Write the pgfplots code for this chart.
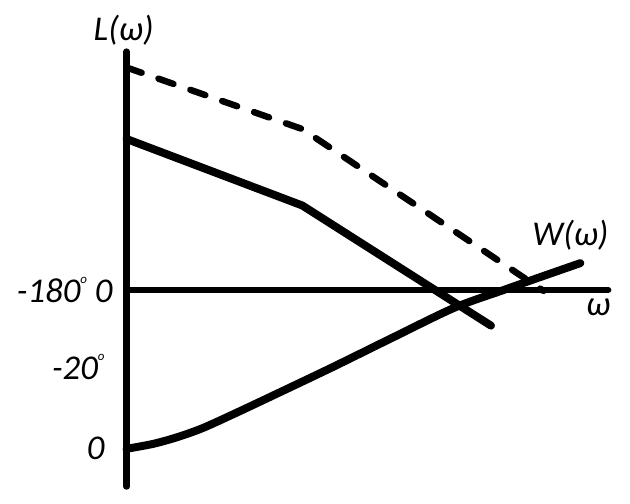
\documentclass[border=0pt]{standalone}
\usepackage{fontspec}
\setmainfont{Carlito}
\usepackage{pgfplots}
\pgfplotsset{compat=1.18}
\begin{document}
\newcommand{\degsym}{\raisebox{0.55em}{\fontsize{13}{13}\selectfont o}}
\newcommand{\lab}{\fontsize{35}{38}\selectfont\itshape}
\begin{tikzpicture}
\begin{axis}[
  width=630pt, height=507pt, scale only axis,
  xmin=-123, xmax=507, ymin=-215, ymax=292,
  hide axis, clip=false,
]
% bounding box
\addplot[draw=none] coordinates {(-123,-215) (507,292)};
% axes
\addplot[black, line width=6.5pt, line cap=round] coordinates {(0,240) (0,-198)};
\addplot[black, line width=6.5pt, line cap=round] coordinates {(0,0) (485,0)};
% dashed L
\addplot[black, line width=6.5pt, line cap=round, dash pattern=on 16pt off 18pt] coordinates {(0,224) (177,162) (420,-1)};
% solid L
\addplot[black, line width=8pt, line cap=round, line join=round] coordinates {(0,152) (177,85) (367,-36)};
% phase
\addplot[black, line width=8pt, line cap=round, line join=round, smooth] coordinates {(0,-160) (27,-155) (52,-148) (77,-139) (110,-124) (144,-108) (207,-78) (270,-47) (330,-18) (380,0) (414,12) (457,27)};
% labels
\node[inner sep=0pt] at (axis cs:-3,262) {\lab L(ω)};
\node[inner sep=0pt] at (axis cs:447,55) {\lab W(ω)};
\node[inner sep=0pt] at (axis cs:475,-18) {\lab ω};
\node[inner sep=0pt, anchor=east] at (axis cs:-14,0) {\lab -180\degsym\ 0};
\node[inner sep=0pt, anchor=east] at (axis cs:-22,-78) {\lab -20\degsym};
\node[inner sep=0pt, anchor=east] at (axis cs:-22,-160) {\lab 0};
\end{axis}
\end{tikzpicture}
\end{document}
